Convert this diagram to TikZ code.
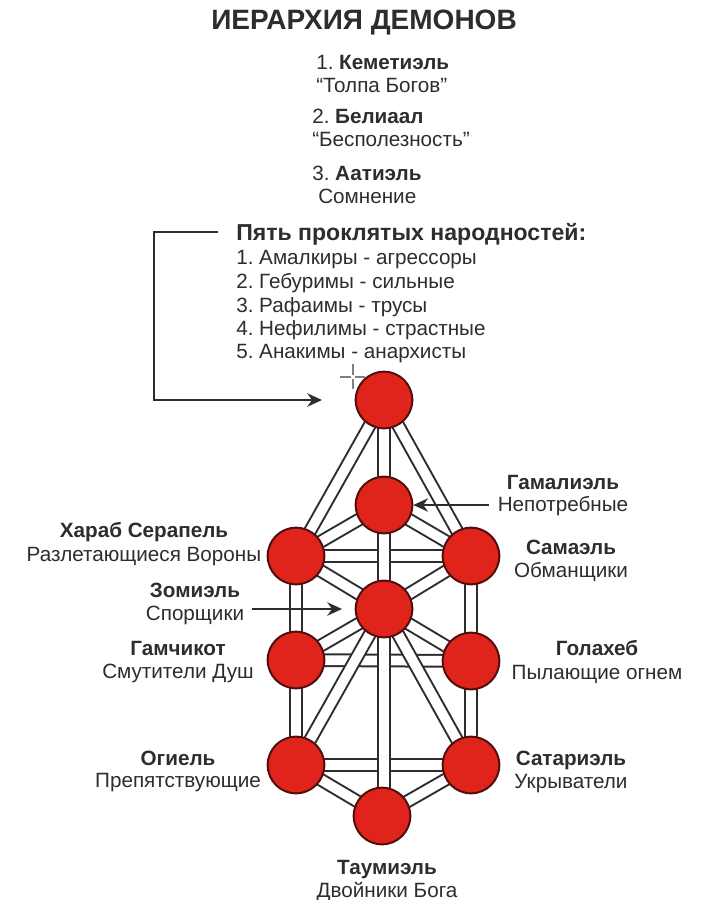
\documentclass[tikz,border=0pt]{standalone}
\usepackage{fontspec}
\setmainfont{Liberation Sans}
\usetikzlibrary{arrows.meta,backgrounds}
\definecolor{ink}{RGB}{45,45,45}
\definecolor{orb}{RGB}{224,36,27}
\definecolor{orbline}{RGB}{80,15,12}
\tikzset{
 x=0.75pt,y=-0.75pt,
 orbnode/.style={circle,draw=orbline,fill=orb,line width=1.5pt,minimum size=42.5pt,inner sep=0pt},
 channel/.style={draw=ink,line width=1.5pt,double=white,double distance=7.3pt},
 txt/.style={inner sep=0pt,text=ink,font=\fontsize{15.5}{18}\selectfont},
 bold/.style={txt,font=\fontsize{15.5}{18}\selectfont\bfseries},
 lft/.style={anchor=base west},
 ctr/.style={anchor=base},
 pointer/.style={draw=ink,line width=1.7pt,-{Stealth[length=11pt,width=10pt]}},
 mark line/.style={draw=gray,line width=1pt,dash pattern=on 8pt off 3pt}
}
\begin{document}
\frenchspacing
\begin{tikzpicture}
\useasboundingbox (0,0) rectangle (720,900);
% title
\node[bold,ctr,font=\fontsize{21}{24}\selectfont\bfseries] (title) at (364,29) {ИЕРАРХИЯ ДЕМОНОВ};
\node[txt,lft] (k1) at (316,69) {1. \textbf{Кеметиэль}};
\node[txt,lft] (k1b) at (316,92) {“Толпа Богов”};
\node[txt,lft] (k2) at (312,123) {2. \textbf{Белиаал}};
\node[txt,lft] (k2b) at (312,146) {“Бесполезность”};
\node[txt,lft] (k3) at (312,180) {3. \textbf{Аатиэль}};
\node[txt,lft] (k3b) at (318,203) {Сомнение};
% list
\node[bold,lft,font=\fontsize{17.3}{20}\selectfont\bfseries] (head) at (236,240) {Пять проклятых народностей:};
\node[txt,lft] (l1) at (236,264) {1. Амалкиры - агрессоры};
\node[txt,lft] (l2) at (236,288) {2. Гебуримы - сильные};
\node[txt,lft] (l3) at (236,312) {3. Рафаимы - трусы};
\node[txt,lft] (l4) at (236,335) {4. Нефилимы - страстные};
\node[txt,lft] (l5) at (236,358) {5. Анакимы - анархисты};
% orbs
\node[orbnode] (top) at (384,400) {};
\node[orbnode] (gam) at (384,505) {};
\node[orbnode] (hl) at (296,556) {};
\node[orbnode] (hr) at (471,556) {};
\node[orbnode] (zom) at (384,609) {};
\node[orbnode] (ml) at (296,660) {};
\node[orbnode] (mr) at (471,661) {};
\node[orbnode] (bl) at (296,765) {};
\node[orbnode] (br) at (471,765) {};
\node[orbnode] (bot) at (382,816) {};
\begin{scope}[on background layer]
 \fill[white] (0,0) rectangle (720,900);
 \foreach \a/\b in {hl/hr,ml/mr,bl/br,top/hl,top/hr,gam/hl,gam/hr,hl/zom,hr/zom,hl/ml,hr/mr,ml/bl,mr/br,ml/zom,mr/zom,bl/bot,br/bot,zom/bl,zom/br,top/gam,gam/zom}
  \draw[channel] (\a.center) -- (\b.center);
 \draw[channel] (zom.center) -- (zom.center |- bot.center);
\end{scope}
% labels
\node[bold,ctr] (t1) at (563,489) {Гамалиэль};
\node[txt,ctr] (t1b) at (563,511) {Непотребные};
\node[bold,ctr] (t2) at (144,537) {Хараб Серапель};
\node[txt,ctr] (t2b) at (144,561) {Разлетающиеся Вороны};
\node[bold,ctr] (t3) at (571,554) {Самаэль};
\node[txt,ctr] (t3b) at (571,577) {Обманщики};
\node[bold,ctr] (t4) at (195,597) {Зомиэль};
\node[txt,ctr] (t4b) at (195,620) {Спорщики};
\node[bold,ctr] (t5) at (178,655) {Гамчикот};
\node[txt,ctr] (t5b) at (178,678) {Смутители Душ};
\node[bold,ctr] (t6) at (597,655) {Голахеб};
\node[txt,ctr] (t6b) at (597,679) {Пылающие огнем};
\node[bold,ctr] (t7) at (178,765) {Огиель};
\node[txt,ctr] (t7b) at (178,787) {Препятствующие};
\node[bold,ctr] (t8) at (571,765) {Сатариэль};
\node[txt,ctr] (t8b) at (571,788) {Укрыватели};
\node[bold,ctr] (t9) at (387,874) {Таумиэль};
\node[txt,ctr] (t9b) at (387,897) {Двойники Бога};
% pointers
\coordinate (bendstart) at (218,232);
\coordinate (bendtip) at (322,400);
\draw[pointer] (bendstart) -| (154,400) -- (bendtip);
\draw[pointer] (t1b.west |- gam) ++(-9,0) -- (gam.east);
\draw[pointer] (t4b.east |- zom) ++(8,0) -- (342,609);
% crosshair
\coordinate (cv1) at (353,364);
\coordinate (cv2) at (353,391);
\coordinate (ch1) at (340,377);
\coordinate (ch2) at (368,377);
\draw[mark line] (cv1) -- (cv2);
\draw[mark line] (ch1) -- (ch2);
\end{tikzpicture}
\end{document}
